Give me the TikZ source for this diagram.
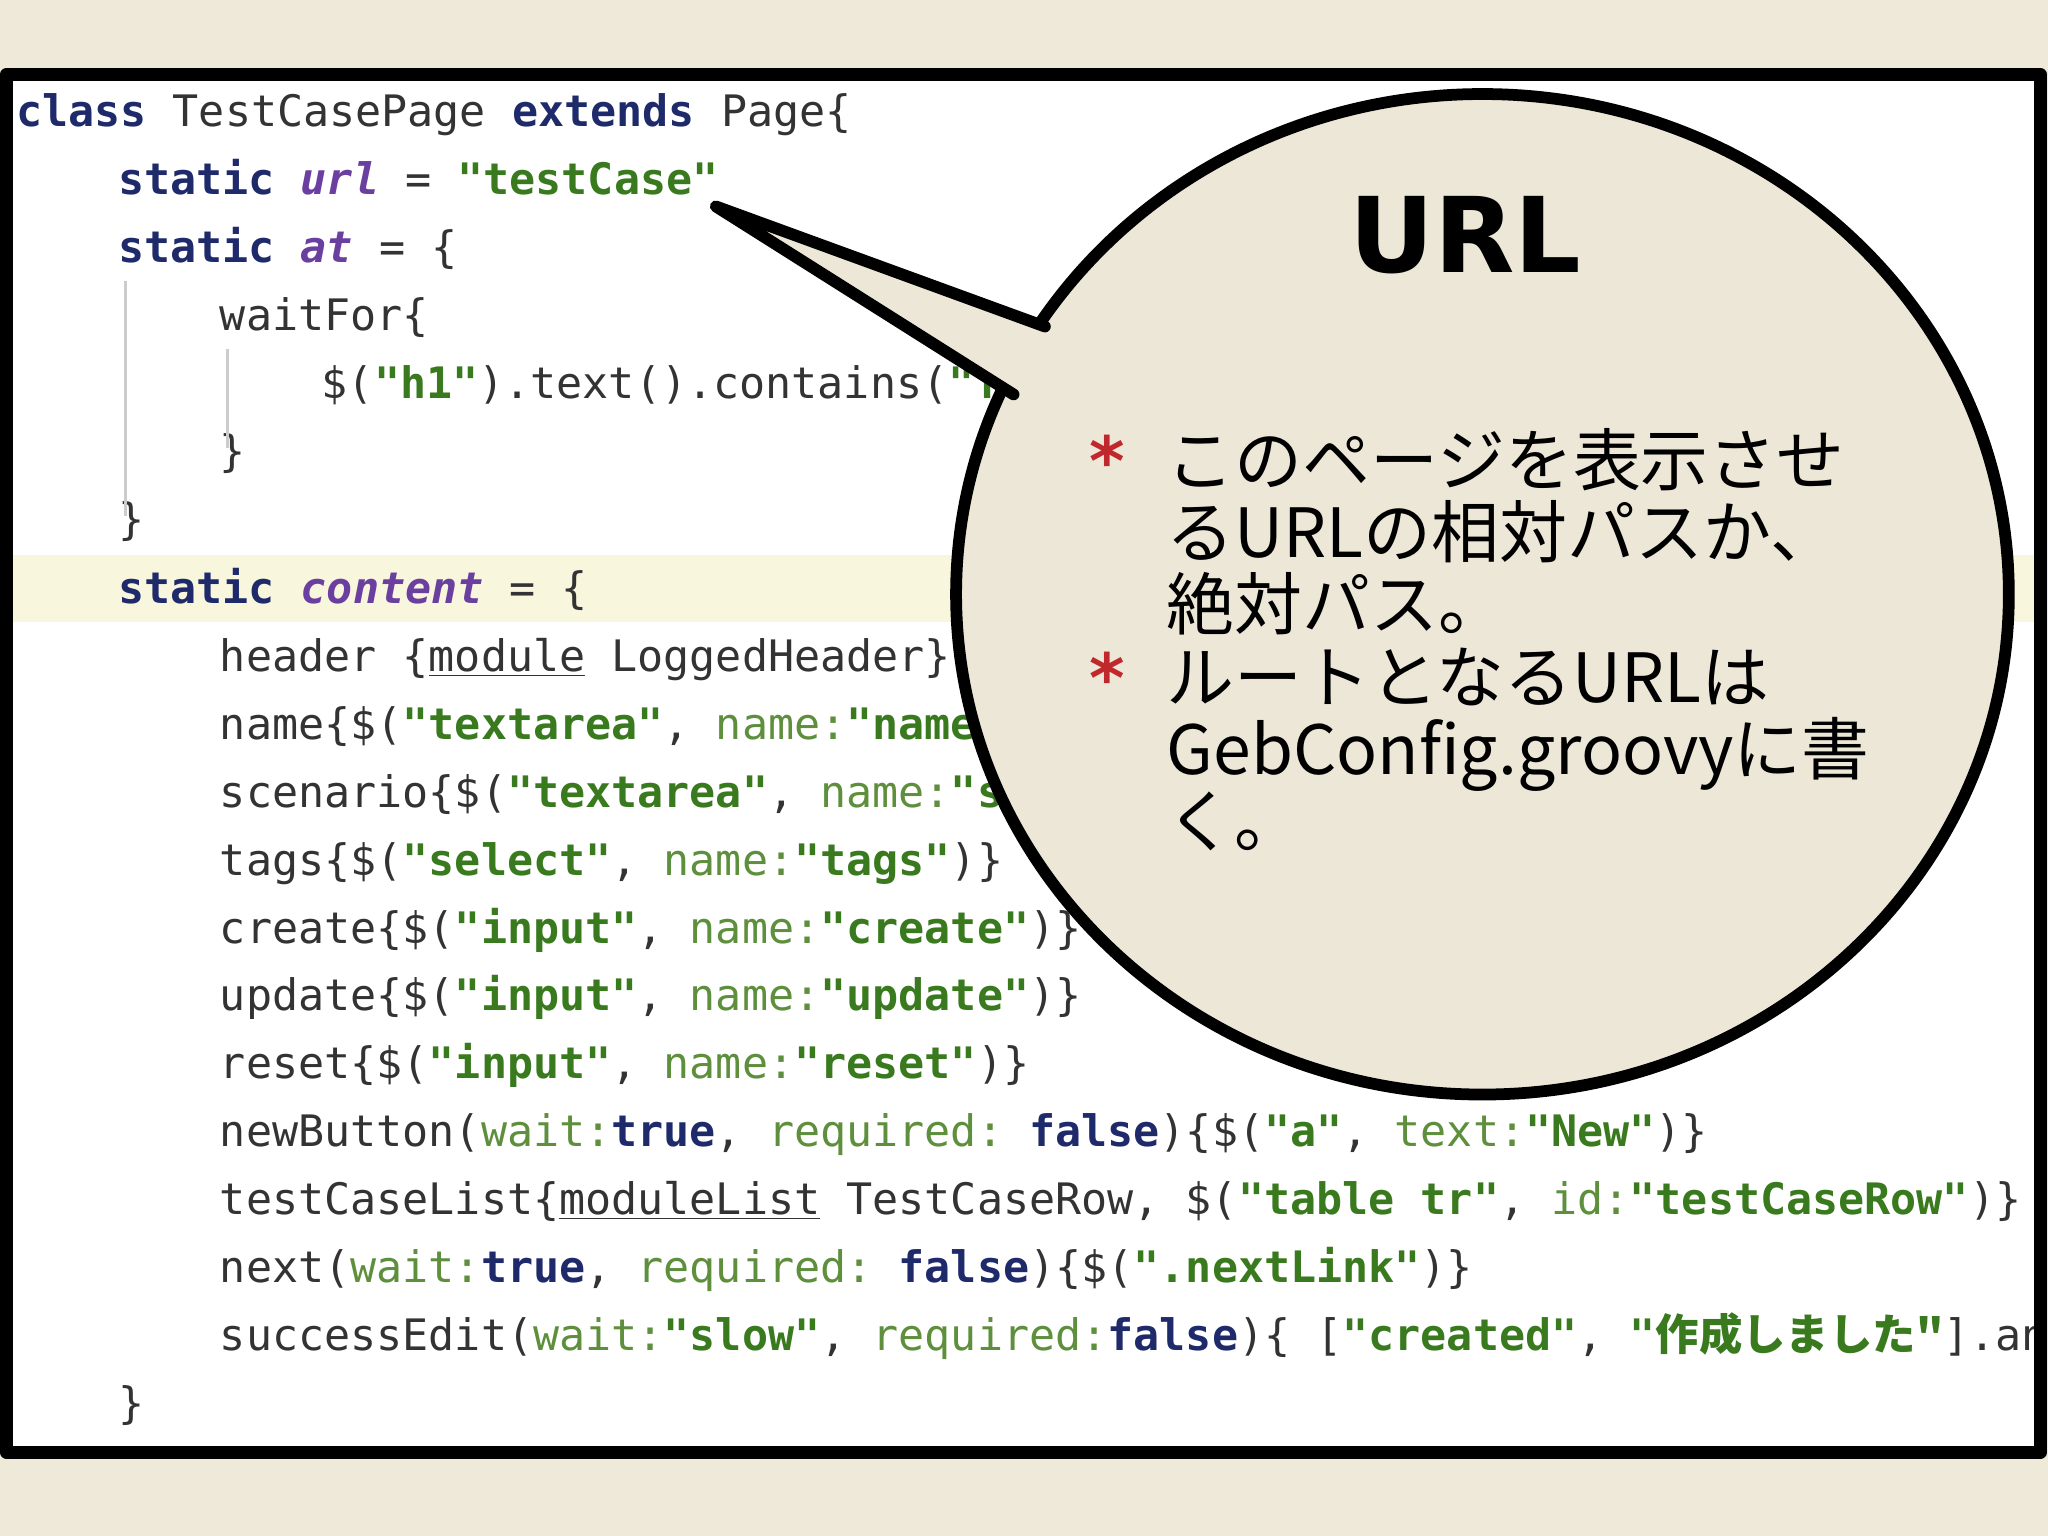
\documentclass[tikz,border=0pt]{standalone}
\usepackage{fontspec}
\setmonofont{DejaVu Sans Mono}
\setmainfont{DejaVu Sans}
\newfontfamily\cjk{Noto Sans CJK JP}
\definecolor{bg}{HTML}{EFE9D9}
\definecolor{bub}{HTML}{EDE7D7}
\definecolor{kwc}{HTML}{1F2A6B}
\definecolor{stc}{HTML}{3A7A1E}
\definecolor{fdc}{HTML}{6A3FA0}
\definecolor{nmc}{HTML}{5E8F3C}
\definecolor{hl}{HTML}{F8F6DC}
\definecolor{ast}{HTML}{C0282C}
\newcommand\kw[1]{{\bfseries\color{kwc}#1}}
\newcommand\st[1]{{\bfseries\color{stc}#1}}
\newcommand\fd[1]{{\bfseries\itshape\color{fdc}#1}}
\newcommand\nm[1]{{\color{nmc}#1}}
\tikzset{codeline/.style={anchor=base west,inner sep=0pt,font=\ttfamily\fontsize{16.6}{20}\selectfont,text=black!80},
jp/.style={anchor=base west,inner sep=0pt,font=\cjk\fontsize{26}{30}\selectfont},
astr/.style={anchor=base west,inner sep=0pt,font=\bfseries\fontsize{26}{30}\selectfont,text=ast}}
\begin{document}
\begin{tikzpicture}[x=0.5pt,y=-0.5pt]
\fill[bg] (0,0) rectangle (1568,1176);
\useasboundingbox (0,0) rectangle (1568,1176);
\fill[white] (5,57) rectangle (1562,1112);
\begin{scope}
\clip (5,57) rectangle (1562,1112);
\fill[hl] (5,425) rectangle (1562,476);
\def\ya{97}\def\dy{52}
\node[codeline] (c1) at (12,97) {\kw{class} TestCasePage \kw{extends} Page\{};
\node[codeline] (c2) at (90,149) {\kw{static} \fd{url} = \st{"testCase"}};
\node[codeline] (c3) at (90,201) {\kw{static} \fd{at} = \{};
\node[codeline] (c4) at (168,253) {waitFor\{};
\node[codeline] (c5) at (246,305) {\$(\st{"h1"}).text().contains(\st{"Test case"})};
\node[codeline] (c6) at (168,357) {\}};
\node[codeline] (c7) at (90,409) {\}};
\node[codeline] (c8) at (90,462) {\kw{static} \fd{content} = \{};
\node[codeline] (c9) at (168,514) {header \{\underline{module} LoggedHeader\}};
\node[codeline] (c10) at (168,566) {name\{\$(\st{"textarea"}, \nm{name:}\st{"name"})\}};
\node[codeline] (c11) at (168,618) {scenario\{\$(\st{"textarea"}, \nm{name:}\st{"scenario"})\}};
\node[codeline] (c12) at (168,670) {tags\{\$(\st{"select"}, \nm{name:}\st{"tags"})\}};
\node[codeline] (c13) at (168,722) {create\{\$(\st{"input"}, \nm{name:}\st{"create"})\}};
\node[codeline] (c14) at (168,774) {update\{\$(\st{"input"}, \nm{name:}\st{"update"})\}};
\node[codeline] (c15) at (168,826) {reset\{\$(\st{"input"}, \nm{name:}\st{"reset"})\}};
\node[codeline] (c16) at (168,878) {newButton(\nm{wait:}\kw{true}, \nm{required:} \kw{false})\{\$(\st{"a"}, \nm{text:}\st{"New"})\}};
\node[codeline] (c17) at (168,930) {testCaseList\{\underline{moduleList} TestCaseRow, \$(\st{"table tr"}, \nm{id:}\st{"testCaseRow"})\}};
\node[codeline] (c18) at (168,982) {next(\nm{wait:}\kw{true}, \nm{required:} \kw{false})\{\$(\st{".nextLink"})\}};
\node[codeline] (c19) at (168,1034) {successEdit(\nm{wait:}\st{"slow"}, \nm{required:}\kw{false})\{ [\st{"created"}, {\bfseries\color{stc}"\cjk 作成しました"}].any\{\}};
\node[codeline] (c20) at (90,1086) {\}};
\draw[gray!40,line width=1pt] (96,215) -- (96,395) (174,267) -- (174,343);
\end{scope}
\draw[line width=5pt,line join=round] (5,57) rectangle (1562,1112);
% callout
\fill[bub,draw=black,line width=4.5pt] (1135,455) ellipse [x radius=403, y radius=383];
\fill[bub] (548,158) -- (800,250) -- (900,330) -- (776,302) -- cycle;
\draw[line width=4.5pt,line cap=round,line join=round] (800,250) -- (548,158) -- (776,302);
\node[anchor=center,inner sep=0pt,font=\bfseries\fontsize{40}{44}\selectfont] (t) at (1122,180) {URL};
\node[astr] (a1) at (834,372) {*};
\node[astr] (a2) at (834,538) {*};
\node[jp] (j1) at (893,372) {このページを表示させ};
\node[jp] (j2) at (893,427) {るURLの相対パスか、};
\node[jp] (j3) at (893,482) {絶対パス。};
\node[jp] (j4) at (893,538) {ルートとなるURLは};
\node[jp] (j5) at (893,593) {GebConfig.groovyに書};
\node[jp] (j6) at (893,648) {く。};
\end{tikzpicture}
\end{document}
